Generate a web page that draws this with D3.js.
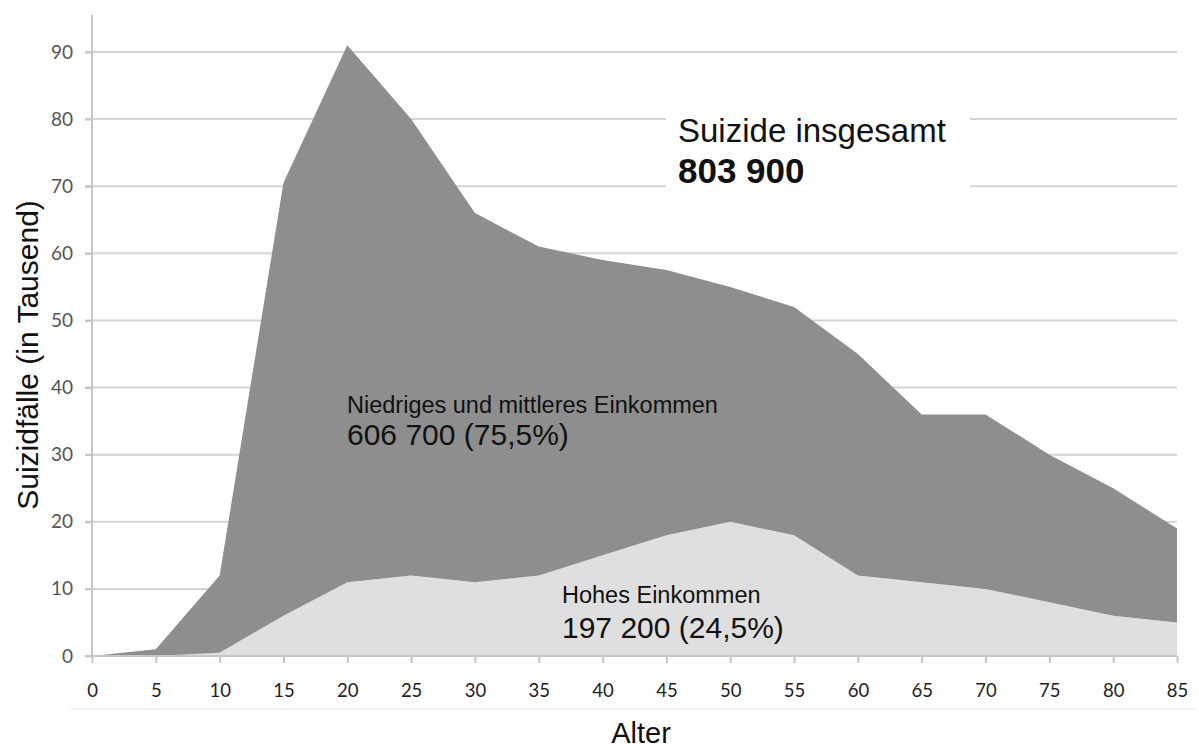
<!DOCTYPE html>
<html>
<head>
<meta charset="utf-8">
<script src="https://cdn.jsdelivr.net/npm/d3@7/dist/d3.min.js"></script>
<style>
  html, body { margin: 0; padding: 0; background: #fff; }
  svg { display: block; }
</style>
</head>
<body>
<svg id="chart" width="1199" height="749"></svg>
<script>
// ---- data ----
const ages = [0, 5, 10, 15, 20, 25, 30, 35, 40, 45, 50, 55, 60, 65, 70, 75, 80, 85];
const total = [0, 1, 12, 70.5, 91, 80, 66, 61, 59, 57.5, 55, 52, 45, 36, 36, 30, 25, 19];
const highIncome = [0, 0, 0.5, 6, 11, 12, 11, 12, 15, 18, 20, 18, 12, 11, 10, 8, 6, 5];
const lowMidIncome = total.map((t, i) => t - highIncome[i]);
const yTicks = [0, 10, 20, 30, 40, 50, 60, 70, 80, 90];
const xTicks = ages;
const labels = {
  yTitle: "Suizidfälle (in Tausend)",
  xTitle: "Alter",
  totalTitle: "Suizide insgesamt",
  totalValue: "803 900",
  lowTitle: "Niedriges und mittleres Einkommen",
  lowValue: "606 700 (75,5%)",
  highTitle: "Hohes Einkommen",
  highValue: "197 200 (24,5%)"
};

// ---- layout ----
const svg = d3.select("#chart");
const x = d3.scaleLinear().domain([0, 85]).range([92, 1177]);
const y = d3.scaleLinear().domain([0, 90]).range([656, 52]);

const rows = ages.map((a, i) => ({ age: a, high: highIncome[i], low: lowMidIncome[i] }));
const stack = d3.stack().keys(["high", "low"])(rows);

// gridlines
svg.append("g").selectAll("line").data(yTicks.filter(d => d > 0)).join("line")
  .attr("x1", 85).attr("x2", x(85))
  .attr("y1", d => y(d)).attr("y2", d => y(d))
  .attr("stroke", "#d3d3d3").attr("stroke-width", 2);

// white box behind the total annotation
svg.append("rect").attr("x", 666).attr("y", 98).attr("width", 304).attr("height", 104).attr("fill", "#fff");

// areas
const area = d3.area()
  .x(d => x(d.data.age))
  .y0(d => y(d[0]))
  .y1(d => y(d[1]));
const colors = { high: "#dfdfdf", low: "#8e8e8e" };
svg.append("g").selectAll("path").data(stack).join("path")
  .attr("d", area)
  .attr("fill", d => colors[d.key]);

// y axis
const yAxis = d3.axisLeft(y).tickValues(yTicks).tickSize(7).tickPadding(12).tickFormat(d3.format("d"));
const gy = svg.append("g").attr("transform", `translate(${x(0)},0)`).call(yAxis);
gy.select(".domain").remove();
gy.append("line").attr("x1", 0).attr("x2", 0).attr("y1", y(95.5)).attr("y2", y(0))
  .attr("stroke", "#c6c6c6").attr("stroke-width", 2);
gy.selectAll(".tick line").attr("stroke", "#c6c6c6").attr("stroke-width", 2);
gy.selectAll(".tick text").attr("fill", "#555").style("font-family", "Lato, 'Open Sans', sans-serif")
  .style("font-size", "19px");

// x axis
const xAxis = d3.axisBottom(x).tickValues(xTicks).tickSize(7).tickPadding(21).tickFormat(d3.format("d"));
const gx = svg.append("g").attr("transform", `translate(0,${y(0)})`).call(xAxis);
gx.select(".domain").remove();
gx.append("line").attr("x1", 85).attr("x2", x(85)).attr("y1", 0).attr("y2", 0)
  .attr("stroke", "#c6c6c6").attr("stroke-width", 2);
gx.selectAll(".tick line").attr("stroke", "#c6c6c6").attr("stroke-width", 2);
gx.selectAll(".tick text").attr("fill", "#222").style("font-family", "Lato, 'Open Sans', sans-serif")
  .style("font-size", "18.5px");

// faint rule under x tick labels
svg.append("line").attr("x1", 70).attr("x2", 1195).attr("y1", 709).attr("y2", 709)
  .attr("stroke", "#efefef").attr("stroke-width", 1.5);

const font = "'Liberation Sans', Arial, Helvetica, sans-serif";

// axis titles
svg.append("text").attr("transform", "translate(38,355) rotate(-90)")
  .attr("text-anchor", "middle").style("font-family", font).style("font-size", "30px")
  .attr("fill", "#111").text(labels.yTitle);
svg.append("text").attr("x", 641).attr("y", 743)
  .attr("text-anchor", "middle").style("font-family", font).style("font-size", "29px")
  .attr("fill", "#111").text(labels.xTitle);

// annotations
function ann(xp, yp, size, weight, txt) {
  svg.append("text").attr("x", xp).attr("y", yp)
    .style("font-family", font).style("font-size", size + "px").style("font-weight", weight)
    .attr("fill", "#111").text(txt);
}
ann(678, 142, 33, "normal", labels.totalTitle);
ann(678, 183, 35, "bold", labels.totalValue);
ann(347, 413, 23.5, "normal", labels.lowTitle);
ann(347, 445, 30, "normal", labels.lowValue);
ann(562, 603, 23.5, "normal", labels.highTitle);
ann(562, 638, 30, "normal", labels.highValue);
</script>
</body>
</html>
